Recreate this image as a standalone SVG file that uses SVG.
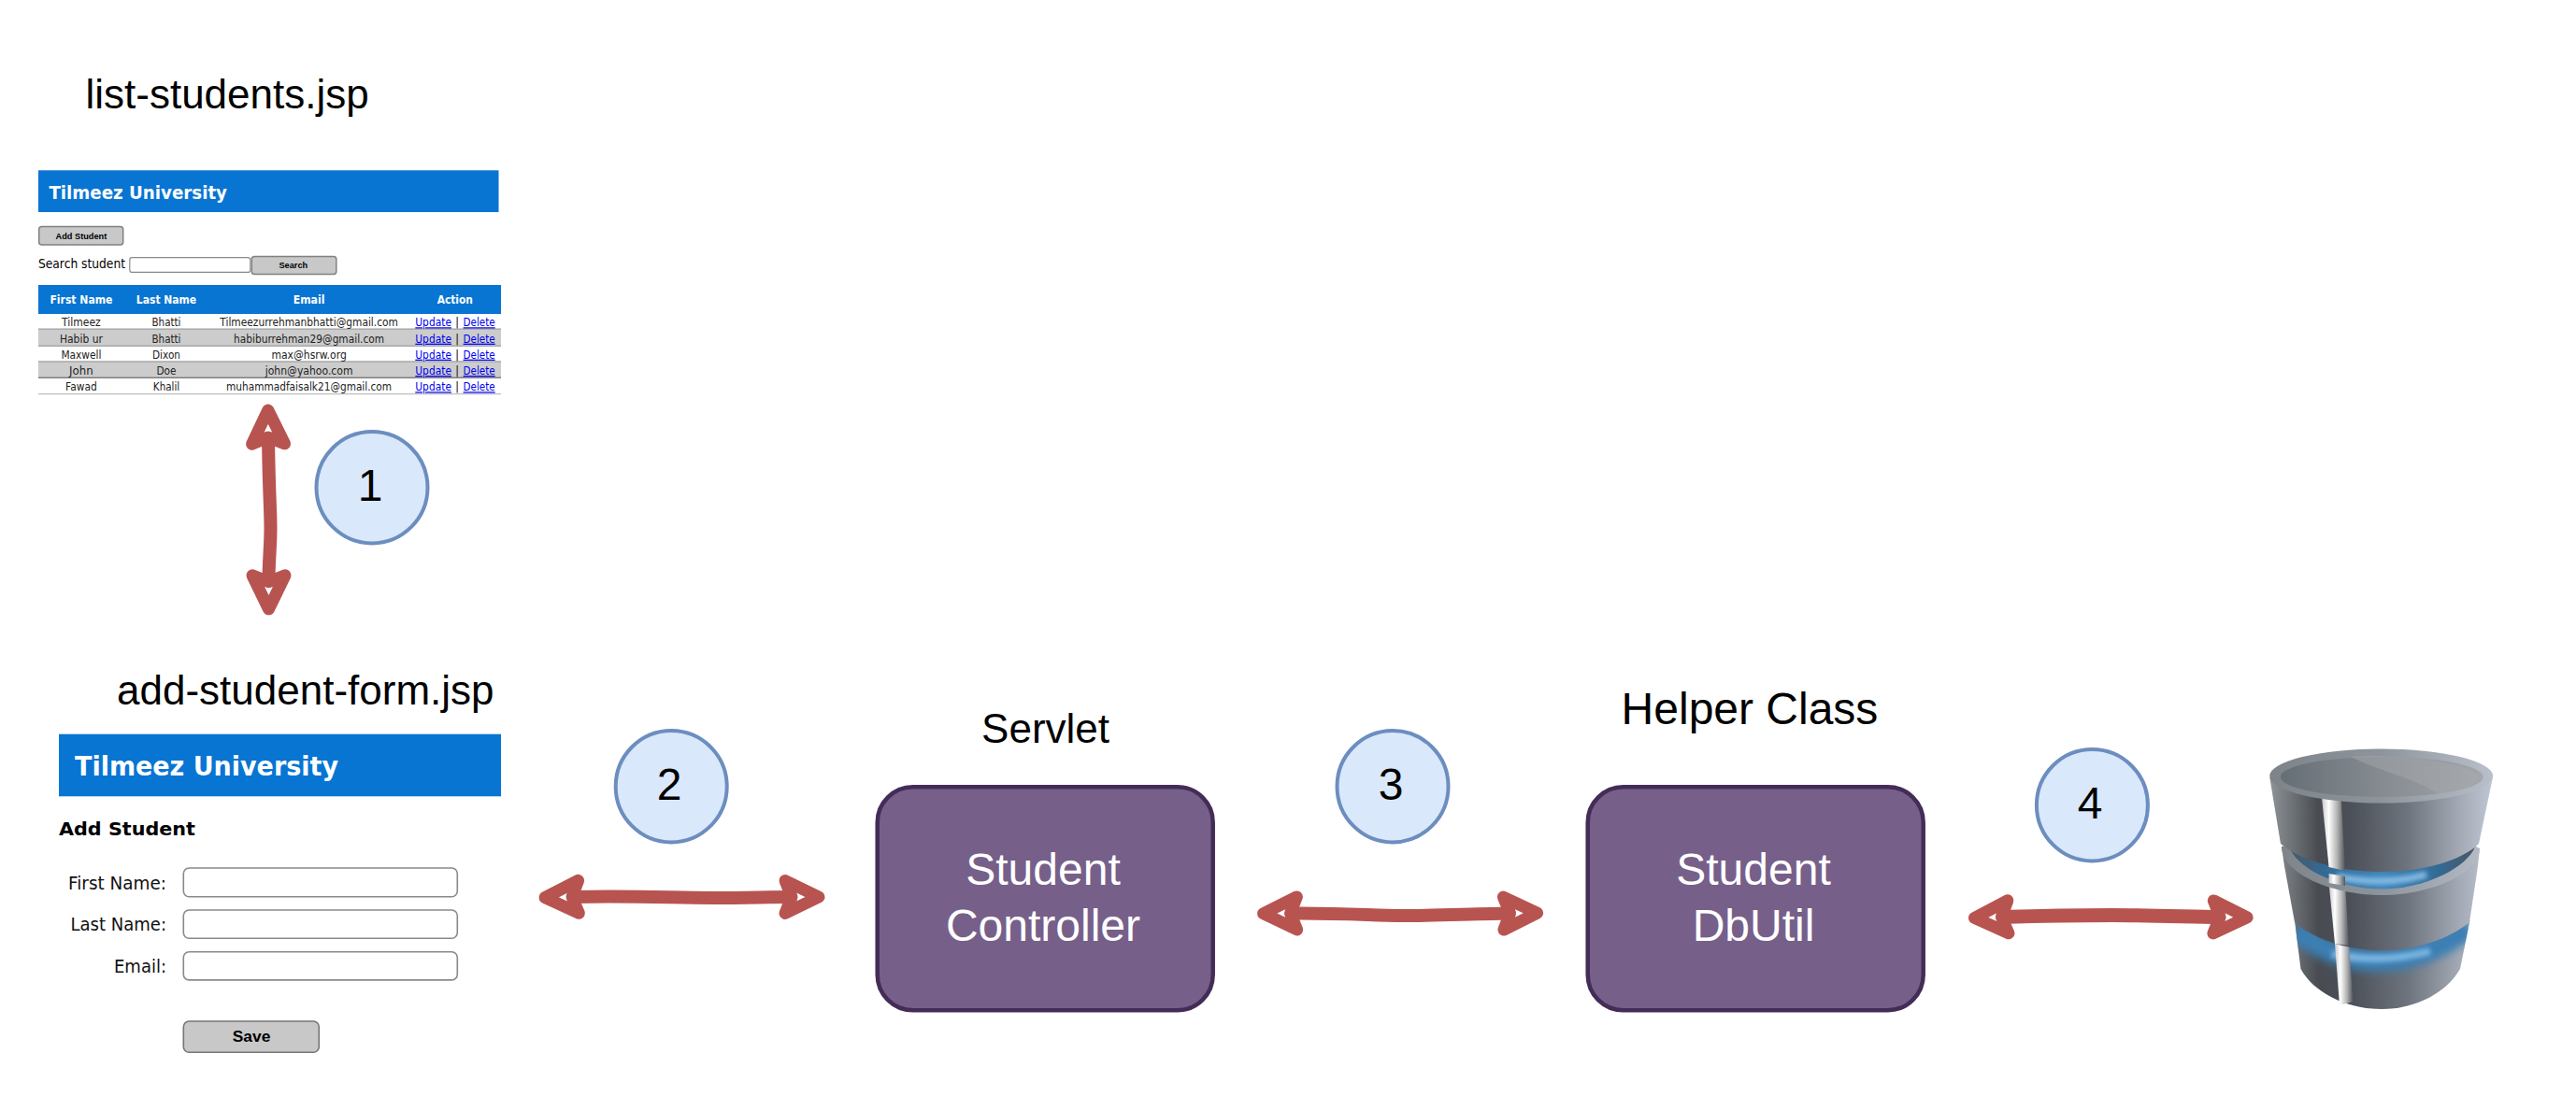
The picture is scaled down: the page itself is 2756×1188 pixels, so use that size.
<svg xmlns="http://www.w3.org/2000/svg" width="2756" height="1188" viewBox="0 0 2756 1188">
<style>
text{font-family:"Liberation Sans",Arial,sans-serif;fill:#000}
.h44{font-size:44px}.h48{font-size:48px}
.w{fill:#fff}
.t{font-family:"DejaVu Sans",sans-serif}
.b{font-weight:700}
.hd{fill:#0875d3}
.row{font-family:"DejaVu Sans",sans-serif;font-size:12.5px;fill:#222;text-anchor:middle}
.lnk{font-family:"DejaVu Sans",sans-serif;font-size:12.5px;fill:#0000ee;text-decoration:underline}
.th{font-family:"DejaVu Sans",sans-serif;font-size:13px;font-weight:700;fill:#fff;text-anchor:middle}
.btn{fill:#c8c8c8;stroke:#808080;stroke-width:1.5}
.btx{font-weight:700;text-anchor:middle}
.inp{fill:#fff;stroke:#8a8a8a;stroke-width:1.6}
.lab{font-family:"DejaVu Sans",sans-serif;font-size:19px;text-anchor:end;fill:#111}
.c{fill:#dae8fc;stroke:#6c8ebf;stroke-width:4}
.n{font-size:48px;text-anchor:middle}
.box{fill:#76608a;stroke:#432d57;stroke-width:4.5}
.bt{font-size:48px;fill:#fff;text-anchor:middle}
.cn{fill:none;stroke:#b85450;stroke-width:14;marker-start:url(#head);marker-end:url(#head)}
</style>
<defs>
<marker id="head" markerUnits="userSpaceOnUse" markerWidth="60" markerHeight="60" refX="0" refY="0" orient="auto-start-reverse" overflow="visible">
<path d="M-7,-17.5 L29,0 L-7,17.5 L0,0 Z" fill="none" stroke="#b85450" stroke-width="13" stroke-linejoin="round"/>
</marker>
<linearGradient id="dbBody" gradientUnits="userSpaceOnUse" x1="2428" y1="0" x2="2667" y2="0">
<stop offset="0" stop-color="#8f9498"/><stop offset=".22" stop-color="#484c51"/><stop offset=".36" stop-color="#4b5058"/><stop offset=".62" stop-color="#6e747d"/><stop offset=".85" stop-color="#a3aab5"/><stop offset="1" stop-color="#c0c7d4"/>
</linearGradient>
<linearGradient id="dbDisc" gradientUnits="userSpaceOnUse" x1="2440" y1="0" x2="2657" y2="0">
<stop offset="0" stop-color="#666e75"/><stop offset=".5" stop-color="#858b91"/><stop offset="1" stop-color="#a3a7ab"/>
</linearGradient>
<linearGradient id="dbRim" gradientUnits="userSpaceOnUse" x1="2428" y1="0" x2="2667" y2="0">
<stop offset="0" stop-color="#7d8389"/><stop offset=".5" stop-color="#8d949b"/><stop offset="1" stop-color="#b9c0cb"/>
</linearGradient>
<linearGradient id="dbGap" gradientUnits="userSpaceOnUse" x1="2445" y1="0" x2="2650" y2="0">
<stop offset="0" stop-color="#4d5660"/><stop offset=".2" stop-color="#336a95"/><stop offset=".5" stop-color="#3f86bb"/><stop offset=".8" stop-color="#336a95"/><stop offset="1" stop-color="#4b5661"/>
</linearGradient>
<linearGradient id="dbStripe" x1="0" y1="0" x2="1" y2="0">
<stop offset="0" stop-color="#c9c9c9"/><stop offset=".3" stop-color="#ffffff"/><stop offset=".65" stop-color="#b5b5b5"/><stop offset="1" stop-color="#50555c"/>
</linearGradient>
<clipPath id="dbLow"><path d="M2455,985 L2461.5,1037 C2475,1062 2510,1080 2547.7,1080 C2585,1080 2618,1062 2632,1037 L2642.5,985 Z"/></clipPath>
<filter id="soft" x="-5%" y="-5%" width="110%" height="110%"><feGaussianBlur stdDeviation="0.7"/></filter>
<filter id="glow" filterUnits="userSpaceOnUse" x="2420" y="880" width="260" height="200"><feGaussianBlur stdDeviation="5"/></filter>
<filter id="glint" filterUnits="userSpaceOnUse" x="2420" y="880" width="260" height="200"><feGaussianBlur stdDeviation="2.5"/></filter>
</defs>
<rect width="2756" height="1188" fill="#fff"/>

<g id="connectors">
<path id="arrow1" class="cn" d="M287,468 C287.5,520 289.5,545 289.5,565 S287.5,600 287.5,622.8"/>
<path id="arrow2" class="cn" d="M612,960 C680,958.5 720,961 760,961 S820,960 847,960"/>
<path id="arrow3" class="cn" d="M1380.5,977.5 C1440,977 1470,980 1500,980 S1580,978 1615.6,977.5"/>
<path id="arrow4" class="cn" style="stroke-width:15" d="M2141.4,981.5 C2190,980 2220,979.5 2260,979.5 S2340,981 2375.1,981.5"/>
</g>

<g id="list-students">
<text class="h44" x="91.5" y="116">list-students.jsp</text>
<rect class="hd" x="41" y="182.3" width="492.5" height="44.7"/>
<text class="t b w" x="52.4" y="212.7" font-size="19.5" textLength="190.6" lengthAdjust="spacingAndGlyphs">Tilmeez University</text>
<rect class="btn" x="41.7" y="242.5" width="90" height="19.5" rx="3"/>
<text class="btx" x="86.9" y="255.7" font-size="9.2">Add Student</text>
<text class="t" x="41" y="287.3" font-size="13.5" fill="#111" textLength="93" lengthAdjust="spacingAndGlyphs">Search student</text>
<rect class="inp" x="138.8" y="275.6" width="129" height="15.8" rx="2.5" style="stroke-width:1.2"/>
<rect class="btn" x="269.3" y="274.5" width="90.5" height="19" rx="3"/>
<text class="btx" x="313.8" y="287" font-size="9.2">Search</text>
<rect class="hd" x="41" y="305" width="495" height="31"/>
<text class="th" x="86.9" y="325.3" textLength="67" lengthAdjust="spacingAndGlyphs">First Name</text>
<text class="th" x="178" y="325.3" textLength="64.3" lengthAdjust="spacingAndGlyphs">Last Name</text>
<text class="th" x="330.6" y="325.3" textLength="33.7" lengthAdjust="spacingAndGlyphs">Email</text>
<text class="th" x="486.8" y="325.3" textLength="38.3" lengthAdjust="spacingAndGlyphs">Action</text>
<rect x="41" y="352.3" width="495" height="18" fill="#cccccc"/>
<rect x="41" y="387" width="495" height="17.3" fill="#cccccc"/>
<g fill="#a0a0a0">
<rect x="41" y="351.5" width="495" height="1.3"/><rect x="41" y="369.6" width="495" height="1.3"/><rect x="41" y="386.3" width="495" height="1.3"/>
<rect x="41" y="403.6" width="495" height="1.3" fill="#707070"/><rect x="41" y="421" width="495" height="1.3" fill="#c0c0c0"/>
</g>
<text class="row" x="86.9" y="349.3" textLength="41.7" lengthAdjust="spacingAndGlyphs">Tilmeez</text>
<text class="row" x="178" y="349.3" textLength="31" lengthAdjust="spacingAndGlyphs">Bhatti</text>
<text class="row" x="330.6" y="349.3" textLength="190.6" lengthAdjust="spacingAndGlyphs">Tilmeezurrehmanbhatti@gmail.com</text>
<text class="row" x="86.9" y="366.7" textLength="46" lengthAdjust="spacingAndGlyphs">Habib ur</text>
<text class="row" x="178" y="366.7" textLength="31" lengthAdjust="spacingAndGlyphs">Bhatti</text>
<text class="row" x="330.6" y="366.7" textLength="161" lengthAdjust="spacingAndGlyphs">habiburrehman29@gmail.com</text>
<text class="row" x="86.9" y="383.7" textLength="43" lengthAdjust="spacingAndGlyphs">Maxwell</text>
<text class="row" x="178" y="383.7" textLength="30" lengthAdjust="spacingAndGlyphs">Dixon</text>
<text class="row" x="330.6" y="383.7" textLength="80.4" lengthAdjust="spacingAndGlyphs">max@hsrw.org</text>
<text class="row" x="86.9" y="401" textLength="25.6" lengthAdjust="spacingAndGlyphs">John</text>
<text class="row" x="178" y="401" textLength="21" lengthAdjust="spacingAndGlyphs">Doe</text>
<text class="row" x="330.6" y="401" textLength="93.8" lengthAdjust="spacingAndGlyphs">john@yahoo.com</text>
<text class="row" x="86.9" y="418.3" textLength="33.7" lengthAdjust="spacingAndGlyphs">Fawad</text>
<text class="row" x="178" y="418.3" textLength="28.3" lengthAdjust="spacingAndGlyphs">Khalil</text>
<text class="row" x="330.6" y="418.3" textLength="177" lengthAdjust="spacingAndGlyphs">muhammadfaisalk21@gmail.com</text>
<text class="lnk" x="444.3" y="349.3" textLength="38.7" lengthAdjust="spacingAndGlyphs">Update</text><text class="row" x="489" y="349.3">|</text><text class="lnk" x="495.6" y="349.3" textLength="34.1" lengthAdjust="spacingAndGlyphs">Delete</text>
<text class="lnk" x="444.3" y="366.7" textLength="38.7" lengthAdjust="spacingAndGlyphs">Update</text><text class="row" x="489" y="366.7">|</text><text class="lnk" x="495.6" y="366.7" textLength="34.1" lengthAdjust="spacingAndGlyphs">Delete</text>
<text class="lnk" x="444.3" y="383.7" textLength="38.7" lengthAdjust="spacingAndGlyphs">Update</text><text class="row" x="489" y="383.7">|</text><text class="lnk" x="495.6" y="383.7" textLength="34.1" lengthAdjust="spacingAndGlyphs">Delete</text>
<text class="lnk" x="444.3" y="401" textLength="38.7" lengthAdjust="spacingAndGlyphs">Update</text><text class="row" x="489" y="401">|</text><text class="lnk" x="495.6" y="401" textLength="34.1" lengthAdjust="spacingAndGlyphs">Delete</text>
<text class="lnk" x="444.3" y="418.3" textLength="38.7" lengthAdjust="spacingAndGlyphs">Update</text><text class="row" x="489" y="418.3">|</text><text class="lnk" x="495.6" y="418.3" textLength="34.1" lengthAdjust="spacingAndGlyphs">Delete</text>
</g>

<g id="add-student-form">
<text class="h44" x="125" y="754.3">add-student-form.jsp</text>
<rect class="hd" x="63" y="785.7" width="473" height="66.6"/>
<text class="t b w" x="80" y="830" font-size="27.5" textLength="282" lengthAdjust="spacingAndGlyphs">Tilmeez University</text>
<text class="t b" x="63" y="894.3" font-size="19.5" textLength="146" lengthAdjust="spacingAndGlyphs">Add Student</text>
<text class="lab" x="178" y="951.7" textLength="105" lengthAdjust="spacingAndGlyphs">First Name:</text>
<text class="lab" x="178" y="996" textLength="102.6" lengthAdjust="spacingAndGlyphs">Last Name:</text>
<text class="lab" x="178" y="1041" textLength="56" lengthAdjust="spacingAndGlyphs">Email:</text>
<rect class="inp" x="196.3" y="929" width="293" height="30.8" rx="6"/>
<rect class="inp" x="196.3" y="974" width="293" height="30.2" rx="6"/>
<rect class="inp" x="196.3" y="1018.7" width="293" height="30.2" rx="6"/>
<rect class="btn" x="196.3" y="1093" width="145" height="33.2" rx="6" style="stroke:#767676;stroke-width:1.6"/>
<text class="btx" x="269" y="1115.3" font-size="17.4">Save</text>
</g>

<g id="step-1"><ellipse class="c" cx="398" cy="521.7" rx="59.5" ry="59.7"/><text class="n" x="396" y="535.7">1</text></g>
<g id="step-2"><ellipse class="c" cx="718.2" cy="841.7" rx="59.5" ry="59.7"/><text class="n" x="716" y="855.7">2</text></g>
<g id="step-3"><ellipse class="c" cx="1490" cy="841.7" rx="59.5" ry="59.7"/><text class="n" x="1488" y="855.5">3</text></g>
<g id="step-4"><ellipse class="c" cx="2238.4" cy="861.7" rx="59.5" ry="59.7"/><text class="n" x="2236" y="875.7">4</text></g>

<g id="student-controller">
<text class="h44" x="1118.6" y="795" text-anchor="middle">Servlet</text>
<rect class="box" x="938.7" y="842.2" width="359" height="239" rx="38"/>
<text class="bt" x="1116" y="946.7">Student</text>
<text class="bt" x="1116" y="1006.7">Controller</text>
</g>

<g id="student-dbutil">
<text class="h48" x="1872" y="775" text-anchor="middle">Helper Class</text>
<rect class="box" x="1698.7" y="842.2" width="359" height="239" rx="38"/>
<text class="bt" x="1876" y="946.7">Student</text>
<text class="bt" x="1876" y="1006.7">DbUtil</text>
</g>

<g id="database" filter="url(#soft)">
<path d="M2455,985 L2461.5,1037 C2475,1062 2510,1080 2547.7,1080 C2585,1080 2618,1062 2632,1037 L2642.5,985 Z" fill="url(#dbBody)"/>
<g clip-path="url(#dbLow)">
<path d="M2456,996 Q2548,1062 2642,992" fill="none" stroke="#3a7fb4" stroke-width="24" filter="url(#glow)"/>
<path d="M2495,1021 Q2548,1032 2600,1018" fill="none" stroke="#7ab6e2" stroke-width="8" filter="url(#glint)"/>
</g>
<polygon points="2498,1010 2513,1010 2517.5,1072 2503,1076" fill="url(#dbStripe)"/>
<path d="M2441,906 L2444,927 L2455,987 C2475,1005 2510,1017 2547.7,1017 C2585,1017 2620,1005 2642,987 L2651,927 L2653,908 Z" fill="url(#dbBody)"/>
<polygon points="2491.6,945 2509,945 2513,1012 2498,1010" fill="url(#dbStripe)"/>
<path d="M2441,906 C2441,935 2495,958 2547.7,958 C2600,958 2653,935 2653,908 L2647,905 L2445,905 Z" fill="url(#dbRim)"/>
<path d="M2449,906 C2456,928 2500,951.5 2547.7,951.5 C2595,951.5 2640,928 2648,906 Z" fill="url(#dbGap)"/>
<path d="M2500,938 Q2548,949 2596,936" fill="none" stroke="#84bce6" stroke-width="7" filter="url(#glint)"/>
<path d="M2428.3,832 L2440,903 C2460,920 2500,933 2547.7,933 C2595,933 2635,920 2652,903 L2667,832 Z" fill="url(#dbBody)"/>
<polygon points="2484,853 2504.6,853 2509,932 2491.6,928" fill="url(#dbStripe)"/>
<polygon points="2491.6,935 2509,938 2509,948 2491.6,945" fill="url(#dbStripe)"/>
<ellipse cx="2547.7" cy="830.5" rx="119.4" ry="29" fill="url(#dbRim)"/>
<ellipse cx="2548.3" cy="831.5" rx="108.4" ry="21.5" fill="url(#dbDisc)"/>
<path d="M2515,810 C2560,806 2640,815 2656,832 C2640,848 2610,851 2610,851 C2590,835 2545,825 2515,810 Z" fill="#a8abaf" opacity=".45"/>
</g>
</svg>
